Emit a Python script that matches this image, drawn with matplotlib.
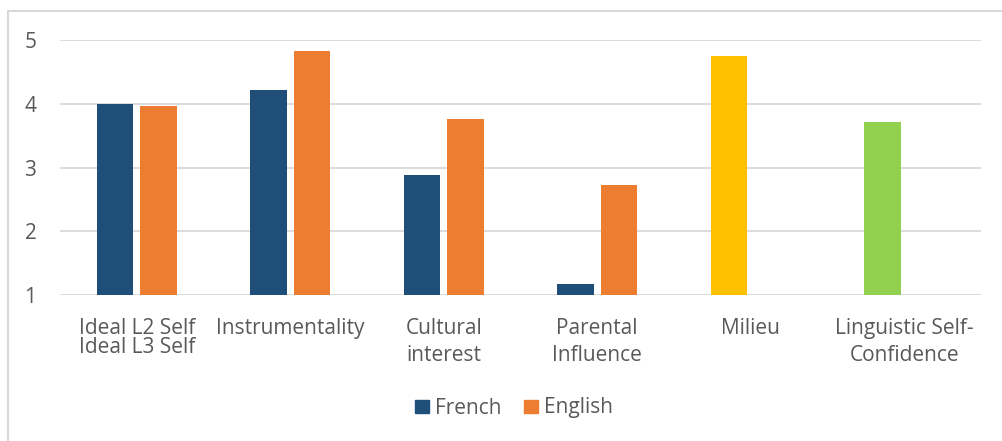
import numpy as np
import matplotlib as mpl
mpl.use('Agg')
import matplotlib.pyplot as plt
from matplotlib.patches import Rectangle, Patch

categories = ["Ideal L2 Self\nIdeal L3 Self", "Instrumentality", "Cultural\ninterest",
              "Parental\nInfluence", "Milieu", "Linguistic Self-\nConfidence"]
french = [4.0, 4.21, 2.88, 1.18, 4.75, 3.71]
english = [3.97, 4.82, 3.76, 2.73, np.nan, np.nan]
french_colors = ["#1F4E79", "#1F4E79", "#1F4E79", "#1F4E79", "#FFC000", "#92D050"]
english_color = "#ED7D31"

plt.rcParams['font.family'] = ['Open Sans', 'DejaVu Sans']
text_color = "#595959"
grid_color = "#D9D9D9"

W, H = 1003, 441
fig = plt.figure(figsize=(W / 100, H / 100), dpi=100)
ax = fig.add_axes([60 / W, 1 - 295 / H, (981 - 60) / W, (295 - 40) / H])

x = np.arange(len(categories))
width = 0.235
off = 0.1417
ax.bar(x - off, np.array(french) - 1, width, bottom=1, color=french_colors, zorder=3)
ax.bar(x + off, np.array(english) - 1, width, bottom=1, color=english_color, zorder=3)

ax.set_xlim(-0.5, len(categories) - 0.5)
ax.set_ylim(1, 5)
ax.set_yticks([1, 2, 3, 4, 5])
ax.yaxis.grid(True, color=grid_color, linewidth=1.3, zorder=0)
for side in ["top", "right", "left", "bottom"]:
    ax.spines[side].set_visible(False)
ax.tick_params(axis='both', length=0, labelsize=15, colors=text_color)
ax.tick_params(axis='y', pad=17)
ax.tick_params(axis='x', pad=16.5)
ax.set_xticks(x)
ax.set_xticklabels(categories, va='top')
for i, lab in enumerate(ax.get_xticklabels()):
    lab.set_linespacing(0.88 if i == 0 else 1.36)

handles = [Patch(color="#1F4E79", label="French"), Patch(color=english_color, label="English")]
fig.legend(handles=handles, loc='center', bbox_to_anchor=(514 / W, 1 - 408 / H), ncol=2,
           frameon=False, fontsize=15, labelcolor=text_color, handlelength=0.65,
           handleheight=0.6, handletextpad=0.3, columnspacing=1.1)

fig.add_artist(Rectangle((8 / W, -0.05), 1.1, 1 - 11 / H + 0.05, transform=fig.transFigure,
                         fill=False, edgecolor=grid_color, linewidth=1.5))

fig.savefig("out.png", dpi=100)
